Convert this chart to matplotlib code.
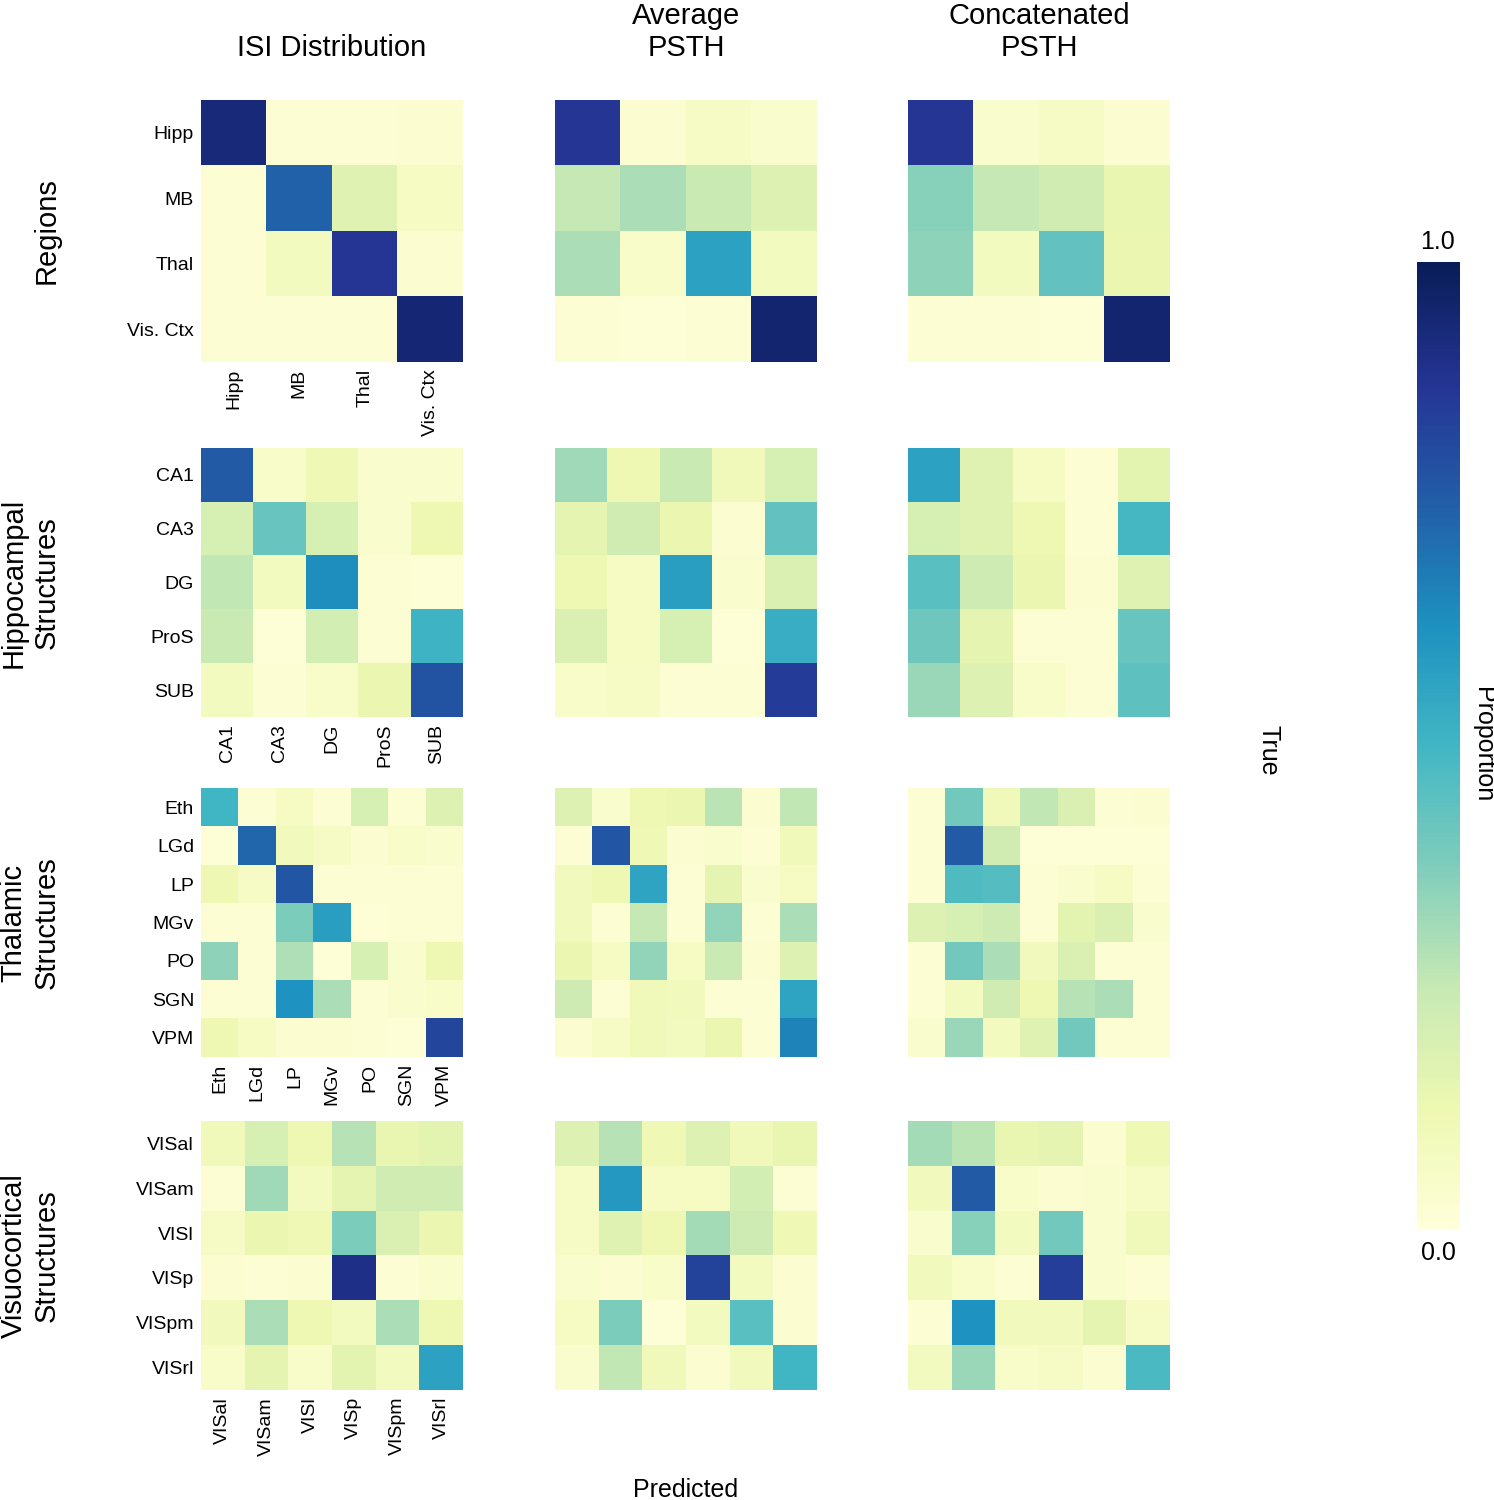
import matplotlib
matplotlib.use("Agg")
import matplotlib.pyplot as plt
import numpy as np

plt.rcParams['font.family'] = ['Liberation Sans', 'DejaVu Sans']

# category labels for each row of panels
regions = ["Hipp", "MB", "Thal", "Vis. Ctx"]
hippo = ["CA1", "CA3", "DG", "ProS", "SUB"]
thal = ["Eth", "LGd", "LP", "MGv", "PO", "SGN", "VPM"]
visual = ["VISal", "VISam", "VISl", "VISp", "VISpm", "VISrl"]

col_titles = ["ISI Distribution", "Average\nPSTH", "Concatenated\nPSTH"]
row_titles = ["Regions", "Hippocampal\nStructures", "Thalamic\nStructures", "Visuocortical\nStructures"]

# confusion matrices (rows = true, cols = predicted)
reg_isi = [[0.93, 0.02, 0.02, 0.03],
           [0.02, 0.74, 0.17, 0.07],
           [0.02, 0.08, 0.87, 0.03],
           [0.02, 0.02, 0.02, 0.94]]
reg_avg = [[0.87, 0.03, 0.06, 0.04],
           [0.25, 0.30, 0.24, 0.18],
           [0.30, 0.05, 0.57, 0.08],
           [0.02, 0.01, 0.02, 0.95]]
reg_cat = [[0.87, 0.04, 0.06, 0.03],
           [0.36, 0.25, 0.22, 0.14],
           [0.35, 0.08, 0.43, 0.13],
           [0.02, 0.02, 0.01, 0.95]]

hip_isi = [[0.76, 0.05, 0.11, 0.04, 0.04],
           [0.20, 0.42, 0.20, 0.04, 0.12],
           [0.26, 0.08, 0.63, 0.02, 0.01],
           [0.24, 0.01, 0.21, 0.02, 0.51],
           [0.08, 0.02, 0.05, 0.13, 0.78]]
hip_avg = [[0.32, 0.12, 0.24, 0.10, 0.20],
           [0.15, 0.22, 0.13, 0.03, 0.43],
           [0.12, 0.07, 0.58, 0.04, 0.19],
           [0.19, 0.07, 0.20, 0.01, 0.53],
           [0.05, 0.06, 0.02, 0.02, 0.85]]
hip_cat = [[0.57, 0.17, 0.07, 0.02, 0.16],
           [0.20, 0.17, 0.12, 0.02, 0.49],
           [0.45, 0.23, 0.13, 0.03, 0.17],
           [0.41, 0.15, 0.02, 0.02, 0.42],
           [0.33, 0.18, 0.05, 0.02, 0.44]]

thal_isi = [[0.50, 0.02, 0.07, 0.02, 0.20, 0.02, 0.18],
            [0.01, 0.73, 0.09, 0.06, 0.03, 0.05, 0.04],
            [0.12, 0.06, 0.77, 0.02, 0.02, 0.02, 0.02],
            [0.02, 0.02, 0.38, 0.58, 0.01, 0.02, 0.02],
            [0.35, 0.02, 0.29, 0.01, 0.20, 0.04, 0.12],
            [0.02, 0.02, 0.62, 0.30, 0.02, 0.04, 0.05],
            [0.12, 0.07, 0.03, 0.03, 0.02, 0.01, 0.82]]
thal_avg = [[0.18, 0.04, 0.12, 0.13, 0.27, 0.03, 0.26],
            [0.02, 0.77, 0.11, 0.03, 0.04, 0.02, 0.10],
            [0.09, 0.12, 0.56, 0.02, 0.15, 0.04, 0.07],
            [0.09, 0.02, 0.25, 0.02, 0.34, 0.02, 0.30],
            [0.13, 0.07, 0.34, 0.07, 0.24, 0.03, 0.18],
            [0.23, 0.02, 0.10, 0.09, 0.02, 0.02, 0.56],
            [0.03, 0.06, 0.10, 0.08, 0.13, 0.02, 0.66]]
thal_cat = [[0.02, 0.40, 0.10, 0.26, 0.19, 0.02, 0.03],
            [0.02, 0.76, 0.22, 0.01, 0.01, 0.01, 0.01],
            [0.02, 0.47, 0.46, 0.02, 0.04, 0.07, 0.02],
            [0.18, 0.20, 0.23, 0.02, 0.16, 0.19, 0.04],
            [0.02, 0.40, 0.30, 0.09, 0.19, 0.02, 0.02],
            [0.02, 0.08, 0.22, 0.12, 0.28, 0.30, 0.02],
            [0.04, 0.33, 0.08, 0.17, 0.40, 0.02, 0.02]]

vis_isi = [[0.10, 0.20, 0.12, 0.28, 0.14, 0.16],
           [0.02, 0.32, 0.08, 0.15, 0.22, 0.22],
           [0.06, 0.13, 0.11, 0.38, 0.19, 0.13],
           [0.03, 0.02, 0.03, 0.90, 0.02, 0.04],
           [0.09, 0.30, 0.12, 0.08, 0.30, 0.12],
           [0.05, 0.15, 0.05, 0.16, 0.08, 0.57]]
vis_avg = [[0.18, 0.28, 0.11, 0.18, 0.10, 0.14],
           [0.06, 0.60, 0.07, 0.07, 0.21, 0.02],
           [0.06, 0.17, 0.12, 0.31, 0.23, 0.11],
           [0.04, 0.03, 0.05, 0.83, 0.08, 0.03],
           [0.07, 0.38, 0.01, 0.08, 0.45, 0.03],
           [0.04, 0.26, 0.10, 0.03, 0.09, 0.50]]
vis_cat = [[0.31, 0.27, 0.14, 0.15, 0.03, 0.11],
           [0.09, 0.76, 0.05, 0.03, 0.04, 0.06],
           [0.04, 0.36, 0.08, 0.40, 0.04, 0.10],
           [0.09, 0.05, 0.02, 0.84, 0.04, 0.02],
           [0.02, 0.62, 0.09, 0.09, 0.15, 0.06],
           [0.08, 0.33, 0.05, 0.06, 0.03, 0.48]]

labels = [regions, hippo, thal, visual]
mats = [[reg_isi, reg_avg, reg_cat],
        [hip_isi, hip_avg, hip_cat],
        [thal_isi, thal_avg, thal_cat],
        [vis_isi, vis_avg, vis_cat]]

W, H = 1494, 1500
fig = plt.figure(figsize=(W / 100, H / 100), dpi=100)

col_left = [201, 555, 908]
col_w = 262
row_top = [100, 448, 788, 1121]
row_h = [262, 269, 269, 269]

im = None
for r in range(4):
    for c in range(3):
        ax = fig.add_axes([col_left[c] / W, 1 - (row_top[r] + row_h[r]) / H,
                           col_w / W, row_h[r] / H])
        im = ax.imshow(np.array(mats[r][c]), cmap="YlGnBu", vmin=0, vmax=1,
                       aspect="auto", interpolation="nearest")
        for s in ax.spines.values():
            s.set_visible(False)
        ax.tick_params(length=0)
        n = len(labels[r])
        if c == 0:
            ax.set_yticks(range(n))
            ax.set_yticklabels(labels[r], fontsize=14)
            ax.set_xticks(range(n))
            ax.set_xticklabels(labels[r], rotation=90, fontsize=14)
            ax.tick_params(axis="y", pad=5)
            ax.tick_params(axis="x", pad=5)
        else:
            ax.set_xticks([])
            ax.set_yticks([])

# column titles
for c in range(3):
    cx = (col_left[c] + col_w / 2) / W
    fig.text(cx, 1 - 62 / H, col_titles[c], ha="center", va="bottom",
             fontsize=21, linespacing=1.2)

# row titles
row_x = [47, 30, 30, 30]
for r in range(4):
    cy = 1 - (row_top[r] + row_h[r] / 2) / H
    fig.text(row_x[r] / W, cy, row_titles[r], rotation=90, ha="center",
             va="center", fontsize=21, multialignment="center", linespacing=1.2)

fig.text(686 / W, 1 - 1490 / H, "Predicted", ha="center", va="center", fontsize=18)
fig.text(1268 / W, 1 - 750 / H, "True", rotation=-90, ha="center", va="center", fontsize=18)

# colorbar
cax = fig.add_axes([1417 / W, 1 - 1230 / H, 43 / W, 968 / H])
cb = fig.colorbar(im, cax=cax)
cb.outline.set_visible(False)
cb.set_ticks([])
fig.text(1438 / W, 1 - 242 / H, "1.0", ha="center", va="center", fontsize=18)
fig.text(1438 / W, 1 - 1253 / H, "0.0", ha="center", va="center", fontsize=18)
fig.text(1483 / W, 1 - 745 / H, "Proportion", rotation=-90, ha="center", va="center", fontsize=18)

plt.savefig("out.png", dpi=100)
